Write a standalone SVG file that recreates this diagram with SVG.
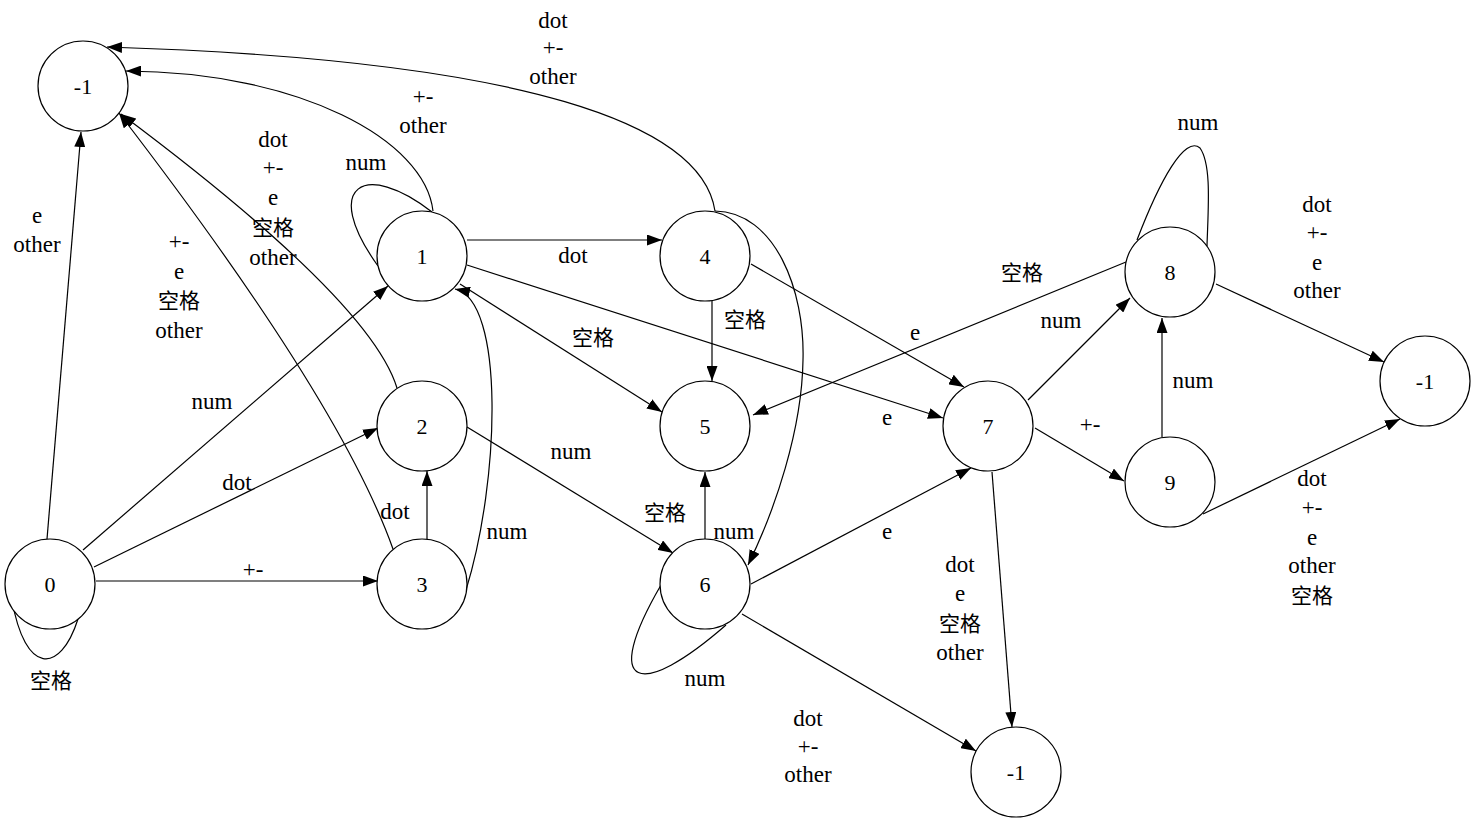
<svg xmlns="http://www.w3.org/2000/svg" width="1472" height="819" viewBox="0 0 1472 819">
<style>
.n circle{fill:#fff;stroke:#000;stroke-width:1.2}
.n text{font-size:22px;text-anchor:middle;fill:#000}
#edges path,#edges line{fill:none;stroke:#000;stroke-width:1.2}
.a{marker-end:url(#arr)}
.lbl text{font-size:23px;text-anchor:middle;fill:#000}
.lbl text.c{font-size:21px}
</style>
<defs>
<marker id="arr" viewBox="0 0 15 11" refX="15" refY="5.5" markerWidth="15" markerHeight="11" orient="auto" markerUnits="userSpaceOnUse"><path d="M0,0 L15,5.5 L0,11 z" fill="#000"/></marker>
</defs>
<rect width="1472" height="819" fill="#fff"/>
<g id="edges">
<line class="a" x1="47" y1="539" x2="81" y2="132"/>
<line class="a" x1="83" y1="550" x2="388" y2="286"/>
<line class="a" x1="94" y1="567" x2="378" y2="428"/>
<line class="a" x1="96" y1="581" x2="378" y2="581"/>
<path d="M 12 600 C 25 675, 60 675, 78 619"/>
<path d="M 378 266 C 320 185, 365 160, 432 212"/>
<path class="a" d="M 433 211 C 425 140, 300 72, 126 71"/>
<path class="a" d="M 715 211 C 702 125, 530 60, 107 47"/>
<path class="a" d="M 397 388 Q 370 300 121 114"/>
<path class="a" d="M 393 549 Q 340 400 119 113"/>
<line class="a" x1="427" y1="539" x2="427" y2="471"/>
<path class="a" d="M 466 590 C 500 480, 505 300, 455 289"/>
<line class="a" x1="467" y1="240" x2="662" y2="240"/>
<line class="a" x1="460" y1="284" x2="662" y2="412"/>
<line class="a" x1="467" y1="265" x2="943" y2="418"/>
<line class="a" x1="712" y1="301" x2="712" y2="381"/>
<line class="a" x1="751" y1="264" x2="964" y2="387"/>
<path class="a" d="M 715 211 C 775 212, 805 290, 803 360 C 802 430, 775 510, 748 565"/>
<line class="a" x1="705" y1="539" x2="705" y2="472"/>
<line class="a" x1="467" y1="427" x2="673" y2="553"/>
<path d="M 661 585 C 600 690, 640 700, 726 625"/>
<line class="a" x1="751" y1="584" x2="971" y2="468"/>
<line class="a" x1="742" y1="614" x2="976" y2="751"/>
<line class="a" x1="992" y1="472" x2="1012" y2="727"/>
<line class="a" x1="1028" y1="400" x2="1130" y2="298"/>
<line class="a" x1="1035" y1="428" x2="1124" y2="481"/>
<line class="a" x1="1162" y1="437" x2="1162" y2="318"/>
<line class="a" x1="1126" y1="262" x2="753" y2="415"/>
<path d="M 1137 240 C 1160 180, 1185 135, 1200 148 C 1212 165, 1208 210, 1207 246"/>
<line class="a" x1="1216" y1="284" x2="1384" y2="362"/>
<line class="a" x1="1203" y1="514" x2="1400" y2="419"/>
</g>
<g font-family="Liberation Serif, Noto Sans CJK SC, serif">
<g id="n-1a" class="n"><circle cx="83" cy="86" r="45"/><text x="83" y="94">-1</text></g>
<g id="n0" class="n"><circle cx="50" cy="584" r="45"/><text x="50" y="592">0</text></g>
<g id="n1" class="n"><circle cx="422" cy="256" r="45"/><text x="422" y="264">1</text></g>
<g id="n2" class="n"><circle cx="422" cy="426" r="45"/><text x="422" y="434">2</text></g>
<g id="n3" class="n"><circle cx="422" cy="584" r="45"/><text x="422" y="592">3</text></g>
<g id="n4" class="n"><circle cx="705" cy="256" r="45"/><text x="705" y="264">4</text></g>
<g id="n5" class="n"><circle cx="705" cy="426" r="45"/><text x="705" y="434">5</text></g>
<g id="n6" class="n"><circle cx="705" cy="584" r="45"/><text x="705" y="592">6</text></g>
<g id="n7" class="n"><circle cx="988" cy="426" r="45"/><text x="988" y="434">7</text></g>
<g id="n8" class="n"><circle cx="1170" cy="272" r="45"/><text x="1170" y="280">8</text></g>
<g id="n9" class="n"><circle cx="1170" cy="482" r="45"/><text x="1170" y="490">9</text></g>
<g id="n-1b" class="n"><circle cx="1425" cy="381" r="45"/><text x="1425" y="389">-1</text></g>
<g id="n-1c" class="n"><circle cx="1016" cy="772" r="45"/><text x="1016" y="780">-1</text></g>
<g id="labels" class="lbl">
<text x="37" y="223">e</text><text x="37" y="252">other</text>
<text x="179" y="249">+-</text><text x="179" y="279">e</text><text class="c" x="179" y="308">空格</text><text x="179" y="338">other</text>
<text x="273" y="147">dot</text><text x="273" y="175">+-</text><text x="273" y="205">e</text><text class="c" x="273" y="235">空格</text><text x="273" y="265">other</text>
<text x="423" y="104">+-</text><text x="423" y="133">other</text>
<text x="366" y="170">num</text>
<text x="553" y="28">dot</text><text x="553" y="55">+-</text><text x="553" y="84">other</text>
<text x="212" y="409">num</text>
<text x="237" y="490">dot</text>
<text x="395" y="519">dot</text>
<text x="253" y="577">+-</text>
<text class="c" x="51" y="688">空格</text>
<text x="507" y="539">num</text>
<text x="573" y="263">dot</text>
<text class="c" x="593" y="345">空格</text>
<text class="c" x="745" y="327">空格</text>
<text x="915" y="340">e</text>
<text x="887" y="425">e</text>
<text x="571" y="459">num</text>
<text class="c" x="665" y="520">空格</text>
<text x="734" y="539">num</text>
<text x="705" y="686">num</text>
<text x="887" y="539">e</text>
<text x="960" y="572">dot</text><text x="960" y="601">e</text><text class="c" x="960" y="631">空格</text><text x="960" y="660">other</text>
<text x="808" y="726">dot</text><text x="808" y="754">+-</text><text x="808" y="782">other</text>
<text class="c" x="1022" y="280">空格</text>
<text x="1061" y="328">num</text>
<text x="1090" y="432">+-</text>
<text x="1193" y="388">num</text>
<text x="1198" y="130">num</text>
<text x="1317" y="212">dot</text><text x="1317" y="240">+-</text><text x="1317" y="270">e</text><text x="1317" y="298">other</text>
<text x="1312" y="486">dot</text><text x="1312" y="515">+-</text><text x="1312" y="545">e</text><text x="1312" y="573">other</text><text class="c" x="1312" y="603">空格</text>
</g>
</g>
</svg>
